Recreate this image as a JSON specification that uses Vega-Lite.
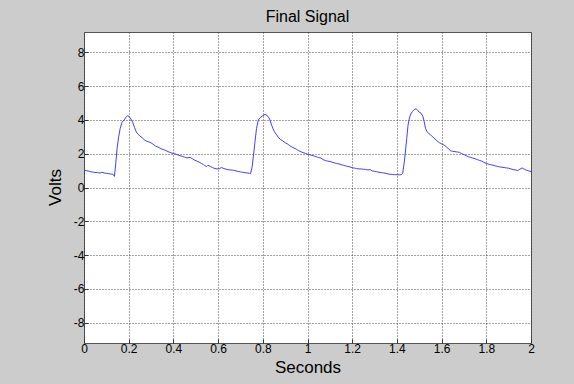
{
  "$schema": "https://vega.github.io/schema/vega-lite/v6.json",
  "width": 447,
  "height": 311,
  "autosize": {"type": "none"},
  "padding": {"left": 84, "top": 32, "right": 43, "bottom": 41},
  "background": "#cccccc",
  "title": {"text": "Final Signal", "font": "Liberation Sans", "fontSize": 16, "fontWeight": "normal", "color": "#000000", "offset": 7, "anchor": "middle"},
  "data": {"values": [
    {"t":0.000,"v":1.02},{"t":0.010,"v":1.00},{"t":0.020,"v":0.97},{"t":0.030,"v":0.93},{"t":0.045,"v":0.90},{"t":0.060,"v":0.88},{"t":0.072,"v":0.86},{"t":0.080,"v":0.90},{"t":0.090,"v":0.86},{"t":0.100,"v":0.84},{"t":0.110,"v":0.82},{"t":0.120,"v":0.80},{"t":0.130,"v":0.78},{"t":0.136,"v":0.66},{"t":0.142,"v":1.4},{"t":0.148,"v":2.3},{"t":0.155,"v":3.0},{"t":0.162,"v":3.5},{"t":0.170,"v":3.85},{"t":0.180,"v":4.0},{"t":0.190,"v":4.2},{"t":0.196,"v":4.25},{"t":0.202,"v":4.2},{"t":0.210,"v":4.05},{"t":0.218,"v":3.85},{"t":0.226,"v":3.55},{"t":0.234,"v":3.28},{"t":0.242,"v":3.15},{"t":0.250,"v":3.05},{"t":0.260,"v":2.95},{"t":0.270,"v":2.82},{"t":0.280,"v":2.74},{"t":0.290,"v":2.70},{"t":0.300,"v":2.64},{"t":0.310,"v":2.55},{"t":0.320,"v":2.45},{"t":0.330,"v":2.40},{"t":0.340,"v":2.33},{"t":0.350,"v":2.26},{"t":0.360,"v":2.22},{"t":0.370,"v":2.16},{"t":0.380,"v":2.10},{"t":0.390,"v":2.05},{"t":0.400,"v":2.01},{"t":0.410,"v":1.98},{"t":0.420,"v":1.93},{"t":0.430,"v":1.88},{"t":0.440,"v":1.84},{"t":0.450,"v":1.80},{"t":0.460,"v":1.75},{"t":0.475,"v":1.78},{"t":0.485,"v":1.70},{"t":0.495,"v":1.62},{"t":0.505,"v":1.56},{"t":0.515,"v":1.50},{"t":0.525,"v":1.43},{"t":0.534,"v":1.36},{"t":0.540,"v":1.30},{"t":0.549,"v":1.24},{"t":0.555,"v":1.32},{"t":0.565,"v":1.25},{"t":0.575,"v":1.18},{"t":0.586,"v":1.12},{"t":0.596,"v":1.10},{"t":0.606,"v":1.12},{"t":0.616,"v":1.18},{"t":0.626,"v":1.12},{"t":0.636,"v":1.08},{"t":0.646,"v":1.05},{"t":0.656,"v":1.04},{"t":0.668,"v":1.02},{"t":0.680,"v":0.98},{"t":0.690,"v":0.95},{"t":0.700,"v":0.92},{"t":0.710,"v":0.90},{"t":0.720,"v":0.88},{"t":0.730,"v":0.86},{"t":0.740,"v":0.84},{"t":0.745,"v":0.82},{"t":0.752,"v":1.2},{"t":0.758,"v":1.85},{"t":0.765,"v":2.7},{"t":0.772,"v":3.5},{"t":0.780,"v":4.0},{"t":0.790,"v":4.15},{"t":0.800,"v":4.25},{"t":0.810,"v":4.32},{"t":0.818,"v":4.28},{"t":0.826,"v":4.15},{"t":0.832,"v":4.0},{"t":0.838,"v":3.75},{"t":0.845,"v":3.5},{"t":0.852,"v":3.3},{"t":0.860,"v":3.15},{"t":0.870,"v":2.95},{"t":0.880,"v":2.83},{"t":0.890,"v":2.75},{"t":0.900,"v":2.65},{"t":0.910,"v":2.58},{"t":0.920,"v":2.48},{"t":0.930,"v":2.40},{"t":0.940,"v":2.33},{"t":0.950,"v":2.27},{"t":0.960,"v":2.18},{"t":0.970,"v":2.12},{"t":0.980,"v":2.06},{"t":0.990,"v":2.02},{"t":1.000,"v":1.97},{"t":1.010,"v":1.94},{"t":1.020,"v":1.90},{"t":1.030,"v":1.86},{"t":1.040,"v":1.82},{"t":1.050,"v":1.77},{"t":1.060,"v":1.74},{"t":1.070,"v":1.65},{"t":1.080,"v":1.60},{"t":1.090,"v":1.56},{"t":1.100,"v":1.54},{"t":1.110,"v":1.50},{"t":1.120,"v":1.46},{"t":1.130,"v":1.42},{"t":1.140,"v":1.40},{"t":1.150,"v":1.35},{"t":1.160,"v":1.32},{"t":1.170,"v":1.28},{"t":1.180,"v":1.25},{"t":1.190,"v":1.22},{"t":1.200,"v":1.17},{"t":1.210,"v":1.15},{"t":1.220,"v":1.12},{"t":1.230,"v":1.10},{"t":1.240,"v":1.10},{"t":1.250,"v":1.08},{"t":1.260,"v":1.07},{"t":1.270,"v":1.04},{"t":1.280,"v":1.06},{"t":1.290,"v":0.98},{"t":1.300,"v":0.96},{"t":1.310,"v":0.93},{"t":1.320,"v":0.90},{"t":1.330,"v":0.88},{"t":1.340,"v":0.86},{"t":1.350,"v":0.84},{"t":1.360,"v":0.80},{"t":1.370,"v":0.78},{"t":1.380,"v":0.77},{"t":1.390,"v":0.76},{"t":1.400,"v":0.76},{"t":1.410,"v":0.75},{"t":1.420,"v":0.76},{"t":1.426,"v":0.85},{"t":1.432,"v":1.4},{"t":1.438,"v":2.1},{"t":1.444,"v":2.9},{"t":1.450,"v":3.7},{"t":1.456,"v":4.1},{"t":1.462,"v":4.35},{"t":1.470,"v":4.5},{"t":1.478,"v":4.62},{"t":1.486,"v":4.66},{"t":1.494,"v":4.55},{"t":1.500,"v":4.45},{"t":1.508,"v":4.40},{"t":1.516,"v":4.22},{"t":1.522,"v":3.9},{"t":1.528,"v":3.5},{"t":1.535,"v":3.3},{"t":1.542,"v":3.2},{"t":1.550,"v":3.12},{"t":1.560,"v":3.00},{"t":1.570,"v":2.88},{"t":1.580,"v":2.75},{"t":1.590,"v":2.65},{"t":1.600,"v":2.58},{"t":1.610,"v":2.52},{"t":1.620,"v":2.42},{"t":1.630,"v":2.30},{"t":1.640,"v":2.18},{"t":1.650,"v":2.14},{"t":1.660,"v":2.12},{"t":1.670,"v":2.10},{"t":1.680,"v":2.08},{"t":1.690,"v":2.00},{"t":1.700,"v":1.95},{"t":1.710,"v":1.88},{"t":1.720,"v":1.82},{"t":1.730,"v":1.78},{"t":1.740,"v":1.74},{"t":1.750,"v":1.70},{"t":1.760,"v":1.65},{"t":1.770,"v":1.60},{"t":1.780,"v":1.56},{"t":1.790,"v":1.48},{"t":1.800,"v":1.42},{"t":1.810,"v":1.38},{"t":1.820,"v":1.35},{"t":1.830,"v":1.32},{"t":1.840,"v":1.28},{"t":1.850,"v":1.25},{"t":1.860,"v":1.22},{"t":1.870,"v":1.20},{"t":1.880,"v":1.18},{"t":1.890,"v":1.16},{"t":1.900,"v":1.14},{"t":1.910,"v":1.10},{"t":1.920,"v":1.06},{"t":1.930,"v":1.04},{"t":1.940,"v":1.00},{"t":1.950,"v":1.08},{"t":1.960,"v":1.16},{"t":1.970,"v":1.08},{"t":1.980,"v":1.02},{"t":1.990,"v":0.98},{"t":2.000,"v":0.95}
  ]},
  "mark": {"type": "line", "color": "#2a2aff", "strokeWidth": 0.9, "interpolate": "linear"},
  "encoding": {
    "x": {"field": "t", "type": "quantitative",
      "scale": {"domain": [0, 2], "nice": false, "zero": false},
      "axis": {"title": "Seconds", "values": [0,0.2,0.4,0.6,0.8,1,1.2,1.4,1.6,1.8,2], "labelExpr": "'' + datum.value", "labelFlush": false, "titleY": 29, "titleBaseline": "alphabetic", "labelPadding": 4}},
    "y": {"field": "v", "type": "quantitative",
      "scale": {"domain": [-9.2, 9.2], "nice": false, "zero": false},
      "axis": {"title": "Volts", "values": [-8,-6,-4,-2,0,2,4,6,8], "labelExpr": "'' + datum.value", "labelFlush": false, "titleX": -24, "titleY": 155, "titleBaseline": "alphabetic", "labelPadding": 4}}
  },
  "config": {
    "view": {"fill": "#ffffff", "stroke": "#555555", "strokeWidth": 1},
    "axis": {
      "domain": false,
      "ticks": true,
      "tickSize": -4,
      "tickColor": "#333333",
      "grid": true,
      "gridColor": "#333333",
      "gridDash": [1, 2],
      "gridOpacity": 0.9,
      "gridWidth": 1,
      "labelFont": "Liberation Sans",
      "labelFontSize": 12,
      "labelColor": "#000000",
      "titleFont": "Liberation Sans",
      "titleFontSize": 17,
      "titleFontWeight": "normal",
      "titleColor": "#000000"
    }
  }
}
